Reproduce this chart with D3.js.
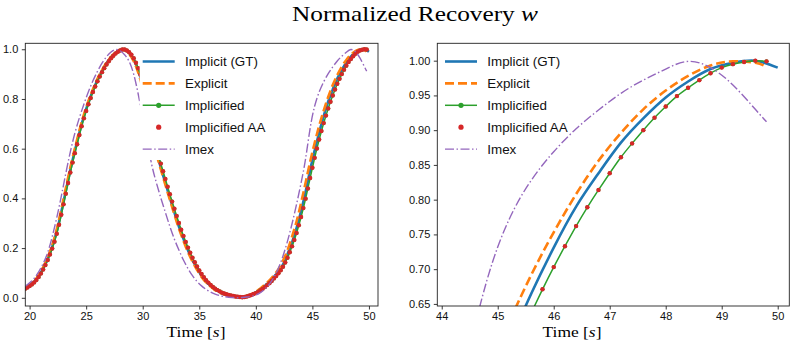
<!DOCTYPE html>
<html>
<head>
<meta charset="utf-8">
<script src="https://cdn.jsdelivr.net/npm/d3@7"></script>
<style>
  body { margin: 0; background: #fff; }
  svg { display: block; }
</style>
</head>
<body>
<div id="container"></div>
<script>
const width = 798;
const height = 354;

// ---- data ----
// Implicified / Implicified AA are sampled every 0.2 s (19.6 .. 49.8)
const fineTime = d3.range(196, 500, 2).map(v => v / 10);
const implicifiedW = [
    0.036, 0.041, 0.047, 0.054, 0.062, 0.072, 0.084, 0.098, 0.114, 0.132,
    0.152, 0.174, 0.198, 0.226, 0.258, 0.294, 0.334, 0.376, 0.419, 0.462,
    0.504, 0.544, 0.582, 0.618, 0.655, 0.690, 0.722, 0.752, 0.779, 0.804,
    0.828, 0.850, 0.871, 0.890, 0.908, 0.924, 0.939, 0.952, 0.964, 0.974,
    0.983, 0.990, 0.995, 0.999, 0.999, 0.995, 0.988, 0.978, 0.964, 0.946,
    0.924, 0.898, 0.867, 0.831, 0.790, 0.745, 0.698, 0.652, 0.610, 0.573,
    0.540, 0.509, 0.478, 0.447, 0.417, 0.387, 0.358, 0.329, 0.301, 0.274,
    0.249, 0.225, 0.202, 0.181, 0.161, 0.143, 0.126, 0.110, 0.096, 0.083,
    0.071, 0.061, 0.052, 0.044, 0.037, 0.031, 0.026, 0.021, 0.017, 0.014,
    0.011, 0.009, 0.007, 0.005, 0.004, 0.003, 0.002, 0.003, 0.005, 0.008,
    0.011, 0.015, 0.019, 0.024, 0.030, 0.036, 0.043, 0.051, 0.059, 0.068,
    0.078, 0.088, 0.099, 0.111, 0.125, 0.142, 0.161, 0.183, 0.207, 0.233,
    0.261, 0.292, 0.325, 0.361, 0.399, 0.440, 0.482, 0.523, 0.563, 0.601,
    0.637, 0.671, 0.703, 0.733, 0.762, 0.789, 0.814, 0.838, 0.861, 0.881,
    0.900, 0.918, 0.934, 0.949, 0.961, 0.972, 0.982, 0.990, 0.995, 0.998,
    1.000, 0.999
];
// the AA markers sit on the same samples
const implicifiedAAW = implicifiedW;

// the other series, read every 0.4 s (19.6 .. 49.6) plus their last sample
const lineTime = d3.range(196, 500, 4).map(v => v / 10);
const gtW = [
    0.037, 0.049, 0.064, 0.087, 0.118, 0.157, 0.205, 0.267, 0.344, 0.430,
    0.514, 0.591, 0.664, 0.730, 0.786, 0.834, 0.876, 0.912, 0.943, 0.967,
    0.985, 0.996, 0.999, 0.985, 0.958, 0.916, 0.853, 0.773, 0.680, 0.594,
    0.524, 0.463, 0.402, 0.344, 0.287, 0.237, 0.191, 0.152, 0.118, 0.089,
    0.066, 0.048, 0.034, 0.024, 0.015, 0.010, 0.006, 0.004, 0.002, 0.006,
    0.013, 0.022, 0.033, 0.048, 0.064, 0.084, 0.106, 0.134, 0.175, 0.223,
    0.280, 0.349, 0.427, 0.513, 0.592, 0.665, 0.731, 0.790, 0.838, 0.882,
    0.917, 0.947, 0.970, 0.988, 0.997, 1.000,
    0.990
];
const explicitW = [
    0.039, 0.051, 0.067, 0.091, 0.123, 0.163, 0.212, 0.276, 0.355, 0.441,
    0.524, 0.600, 0.673, 0.737, 0.792, 0.839, 0.881, 0.916, 0.946, 0.969,
    0.987, 0.997, 0.997, 0.982, 0.952, 0.907, 0.842, 0.759, 0.666, 0.582,
    0.517, 0.455, 0.395, 0.335, 0.279, 0.230, 0.184, 0.146, 0.112, 0.084,
    0.062, 0.045, 0.031, 0.021, 0.014, 0.009, 0.005, 0.003, 0.003, 0.008,
    0.015, 0.025, 0.037, 0.053, 0.070, 0.091, 0.115, 0.149, 0.191, 0.246,
    0.307, 0.382, 0.463, 0.547, 0.623, 0.692, 0.753, 0.808, 0.856, 0.896,
    0.930, 0.957, 0.978, 0.993, 0.999, 0.997,
    0.991
];
const imexW = [
    0.046, 0.060, 0.078, 0.104, 0.138, 0.182, 0.246, 0.322, 0.408, 0.500,
    0.587, 0.662, 0.724, 0.779, 0.829, 0.873, 0.911, 0.944, 0.970, 0.989,
    0.999, 0.994, 0.978, 0.951, 0.900, 0.820, 0.725, 0.630, 0.535, 0.464,
    0.402, 0.344, 0.287, 0.236, 0.192, 0.152, 0.118, 0.089, 0.066, 0.048,
    0.034, 0.023, 0.015, 0.009, 0.005, 0.002, 0.001, 0.000, 0.001, 0.003,
    0.006, 0.011, 0.021, 0.035, 0.055, 0.083, 0.120, 0.168, 0.228, 0.298,
    0.376, 0.462, 0.560, 0.682, 0.771, 0.828, 0.869, 0.902, 0.929, 0.953,
    0.972, 0.988, 0.999, 0.990, 0.965, 0.930,
    0.912
];
const gtTime = lineTime.concat([50.0]);
const explicitTime = lineTime.concat([49.8]);
const imexTime = lineTime.concat([49.8]);

// ticks
const leftXTicks = [20, 25, 30, 35, 40, 45, 50];
const leftYTicks = [0, 0.2, 0.4, 0.6, 0.8, 1.0];
const rightXTicks = [44, 45, 46, 47, 48, 49, 50];
const rightYTicks = [0.65, 0.70, 0.75, 0.80, 0.85, 0.90, 0.95, 1.00];

const legendNames = ['Implicit (GT)', 'Explicit', 'Implicified', 'Implicified AA', 'Imex'];

// ---- layout ----
const plotTop = 43.3;
const plotBottom = 306;
const sansFont = '"Liberation Sans", Arial, Helvetica, sans-serif';
const serifFont = '"Liberation Serif", "Times New Roman", serif';

const panels = [
    {
        left: 25.3, right: 378, xDomain: [19.62, 50.8], yDomain: [-0.033, 1.024],
        xTicks: leftXTicks, yTicks: leftYTicks, yFmt: d3.format('.1f'),
        legendX: 142.7, legendBox: true, xLabelX: 196
    },
    {
        left: 437.3, right: 789.3, xDomain: [43.921, 50.207], yDomain: [0.647, 1.025],
        xTicks: rightXTicks, yTicks: rightYTicks, yFmt: d3.format('.2f'),
        legendX: 445, legendBox: false, xLabelX: 572
    }
];

const lines = [
    { t: gtTime, w: gtW, color: '#1f77b4', width: 2.6, dash: null },
    { t: explicitTime, w: explicitW, color: '#ff7f0e', width: 2.6, dash: '9,4' },
    { t: fineTime, w: implicifiedW, color: '#2ca02c', width: 1.5, dash: null }
];
const imexLine = { t: imexTime, w: imexW, color: '#9467bd', width: 1.4, dash: '9,2.5,1.5,2.5' };

let svg = d3.select('#container').append('svg')
    .attr('width', width)
    .attr('height', height)
    .attr('viewBox', `0 0 ${width} ${height}`);

svg.append('rect').attr('width', width).attr('height', height).attr('fill', '#fff');

panels.forEach((p, i) => {
    let x = d3.scaleLinear().domain(p.xDomain).range([p.left, p.right]);
    let y = d3.scaleLinear().domain(p.yDomain).range([plotBottom, plotTop]);

    let g = svg.append('g');

    g.append('clipPath')
        .attr('id', 'clip' + i)
        .append('rect')
        .attr('x', p.left)
        .attr('y', plotTop)
        .attr('width', p.right - p.left)
        .attr('height', plotBottom - plotTop);

    let plot = g.append('g').attr('clip-path', `url(#clip${i})`);

    let line = d3.line()
        .x(d => x(d[0]))
        .y(d => y(d[1]))
        .curve(d3.curveNatural);

    lines.forEach(s => {
        plot.append('path')
            .datum(d3.zip(s.t, s.w))
            .attr('d', line)
            .attr('fill', 'none')
            .attr('stroke', s.color)
            .attr('stroke-width', s.width)
            .attr('stroke-dasharray', s.dash);
    });

    // Implicified markers, then the AA markers on top
    plot.append('g')
        .selectAll('circle')
        .data(d3.zip(fineTime, implicifiedW))
        .join('circle')
        .attr('cx', d => x(d[0]))
        .attr('cy', d => y(d[1]))
        .attr('r', 2)
        .attr('fill', '#2ca02c');

    plot.append('g')
        .selectAll('circle')
        .data(d3.zip(fineTime, implicifiedAAW))
        .join('circle')
        .attr('cx', d => x(d[0]))
        .attr('cy', d => y(d[1]))
        .attr('r', 2.2)
        .attr('fill', '#d62728');

    plot.append('path')
        .datum(d3.zip(imexLine.t, imexLine.w))
        .attr('d', line)
        .attr('fill', 'none')
        .attr('stroke', imexLine.color)
        .attr('stroke-width', imexLine.width)
        .attr('stroke-dasharray', imexLine.dash);

    // axes
    let xAxis = g.append('g')
        .attr('transform', `translate(0,${plotBottom})`)
        .call(d3.axisBottom(x).tickValues(p.xTicks).tickFormat(d3.format('d')).tickSize(3.5).tickPadding(3));
    let yAxis = g.append('g')
        .attr('transform', `translate(${p.left},0)`)
        .call(d3.axisLeft(y).tickValues(p.yTicks).tickFormat(p.yFmt).tickSize(3.5).tickPadding(3.5));
    [xAxis, yAxis].forEach(a => {
        a.select('.domain').remove();
        a.attr('font-family', sansFont).attr('font-size', 11);
        a.selectAll('line').attr('stroke', '#222').attr('stroke-width', 0.9);
        a.selectAll('text').attr('fill', '#111');
    });

    // spines
    g.append('rect')
        .attr('x', p.left)
        .attr('y', plotTop)
        .attr('width', p.right - p.left)
        .attr('height', plotBottom - plotTop)
        .attr('fill', 'none')
        .attr('stroke', '#222')
        .attr('stroke-width', 0.9);

    // legend
    let lx = p.legendX;
    let rowY = 61.5;
    let rowStep = 21.9;
    let handleLen = 32;
    let legend = g.append('g');
    if (p.legendBox) {
        legend.append('rect')
            .attr('x', lx - 3)
            .attr('y', 47)
            .attr('width', 136)
            .attr('height', 113)
            .attr('fill', '#fff');
    }

    let styles = [lines[0], lines[1], lines[2], null, imexLine];
    legendNames.forEach((name, k) => {
        let yy = rowY + k * rowStep;
        let s = styles[k];
        if (s) {
            legend.append('line')
                .attr('x1', lx).attr('x2', lx + handleLen)
                .attr('y1', yy).attr('y2', yy)
                .attr('stroke', s.color)
                .attr('stroke-width', s.width)
                .attr('stroke-dasharray', s.dash);
        }
        if (k === 2) {
            legend.append('circle').attr('cx', lx + handleLen / 2).attr('cy', yy).attr('r', 2.6).attr('fill', '#2ca02c');
        }
        if (k === 3) {
            legend.append('circle').attr('cx', lx + handleLen / 2).attr('cy', yy).attr('r', 2.6).attr('fill', '#d62728');
        }
        legend.append('text')
            .attr('x', lx + 42.3)
            .attr('y', yy)
            .attr('dy', '0.36em')
            .attr('font-family', sansFont)
            .attr('font-size', 13.4)
            .attr('fill', '#111')
            .text(name);
    });

    // x label
    let xl = g.append('text')
        .attr('x', p.xLabelX)
        .attr('y', 337)
        .attr('text-anchor', 'middle')
        .attr('font-family', serifFont)
        .attr('font-size', 15)
        .attr('textLength', 59)
        .attr('lengthAdjust', 'spacingAndGlyphs')
        .attr('fill', '#000');
    xl.append('tspan').text('Time [');
    xl.append('tspan').attr('font-style', 'italic').text('s');
    xl.append('tspan').text(']');
});

// title
let title = svg.append('text')
    .attr('x', 415)
    .attr('y', 20.7)
    .attr('text-anchor', 'middle')
    .attr('font-family', serifFont)
    .attr('font-size', 21)
    .attr('textLength', 246)
    .attr('lengthAdjust', 'spacingAndGlyphs')
    .attr('fill', '#000');
title.append('tspan').text('Normalized Recovery ');
title.append('tspan').attr('font-style', 'italic').text('w');
</script>
</body>
</html>
